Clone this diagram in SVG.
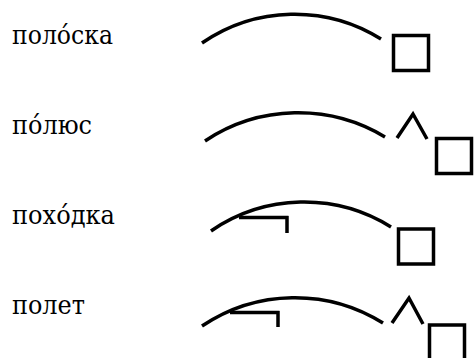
<svg xmlns="http://www.w3.org/2000/svg" width="475" height="358" viewBox="0 0 475 358">
<style>
.word{font-family:"DejaVu Serif","Liberation Serif",serif;font-size:26px;fill:#000}
.ln{fill:none;stroke:#000;stroke-width:3.5;stroke-linecap:butt;stroke-linejoin:miter}
.sq{fill:none;stroke:#000;stroke-width:3.5}
</style>
<rect width="475" height="358" fill="#fff"/>
<g id="row1">
<text class="word" x="12" y="44" textLength="101" lengthAdjust="spacingAndGlyphs">поло́ска</text>
<path class="ln" d="M202,43 A163,163 0 0 1 381,39"/>
<rect class="sq" x="393.5" y="35.5" width="35" height="35"/>
</g>
<g id="row2">
<text class="word" x="12" y="134" textLength="80" lengthAdjust="spacingAndGlyphs">по́люс</text>
<path class="ln" d="M205,141 A168,168 0 0 1 385,137"/>
<path class="ln" d="M397,138 L413,114 L427,139"/>
<rect class="sq" x="436.5" y="138.5" width="35" height="35"/>
</g>
<g id="row3">
<text class="word" x="12" y="224" textLength="103" lengthAdjust="spacingAndGlyphs">похо́дка</text>
<path class="ln" d="M211,231 A164,164 0 0 1 391,227"/>
<path class="ln" d="M239,217.5 H288.5 M287,216 V233"/>
<rect class="sq" x="398.5" y="229" width="35" height="35"/>
</g>
<g id="row4">
<text class="word" x="12" y="314" textLength="73" lengthAdjust="spacingAndGlyphs">полет</text>
<path class="ln" d="M202,326 A166,166 0 0 1 383,323"/>
<path class="ln" d="M230,312.5 H279.5 M278,311 V327"/>
<path class="ln" d="M392,323 L409,298 L423,324"/>
<rect class="sq" x="429.5" y="325" width="35" height="35"/>
</g>
</svg>
